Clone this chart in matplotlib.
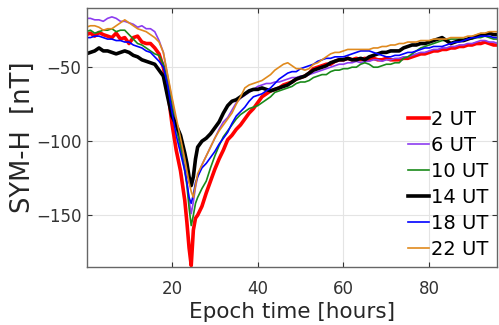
import matplotlib
matplotlib.use("Agg")
import matplotlib.pyplot as plt

# --- data (SYM-H superposed epochs) ------------------------------------

hours = list(range(0, 23)) + [23, 23.5, 24, 24.5, 25, 25.5] + list(range(26, 97))

sym_2ut = [-28, -27, -29, -26.5, -28, -29, -30, -27, -31, -30, -34, -30, -29, -33, -34, -34, -37, -41, -50, -65, -88, -106, -120,
           -140, -155, -172, -184, -160, -152,
           -150, -144, -135, -127, -119, -112, -106, -99, -96, -92, -89, -85, -81, -78, -74, -70, -68, -66, -65, -64, -62, -61, -60, -58,
           -57, -56, -54, -51, -50, -49, -48, -48, -46, -45, -45, -44, -45, -44, -45, -44, -45, -44, -45, -45, -44, -45, -45, -45,
           -44, -44, -43, -42, -41, -41, -40, -39, -39, -38, -38, -37, -37, -36, -36, -35, -35, -34, -34, -33, -34, -35, -35]

sym_6ut = [-17, -17, -18, -18, -19, -17, -16, -17, -19, -19, -20, -21, -23, -22, -24, -24, -26, -32, -40, -56, -72, -88, -102,
           -118, -128, -140, -149, -141, -131,
           -124, -116, -110, -104, -98, -92, -87, -84, -79, -74, -71, -69, -67, -65, -63, -62, -61, -61, -60, -60, -59, -58, -57, -57,
           -56, -56, -55, -54, -53, -52, -51, -50, -49, -48, -48, -47, -47, -46, -47, -46, -46, -45, -45, -46, -45, -45, -44, -44,
           -43, -43, -42, -41, -40, -40, -39, -38, -38, -37, -37, -36, -36, -35, -35, -34, -34, -33, -32, -32, -33, -33, -34]

sym_10ut = [-26, -25, -27, -26, -25, -25, -24, -26, -25, -25, -28, -31, -34, -35, -37, -39, -41, -42, -48, -60, -76, -91, -104,
            -120, -130, -145, -157, -150, -142,
            -138, -132, -127, -118, -110, -103, -97, -93, -89, -85, -82, -80, -78, -77, -76, -74, -72, -70, -67, -66, -65, -64, -63, -61,
            -60, -60, -59, -57, -56, -55, -55, -53, -52, -52, -51, -51, -50, -50, -48, -47, -48, -50, -50, -49, -48, -48, -47, -47,
            -44, -43, -41, -39, -37, -36, -35, -34, -33, -32, -32, -31, -31, -31, -31, -31, -31, -30, -30, -29, -30, -31, -31]

sym_14ut = [-41, -40, -39, -37, -39, -39, -40, -41, -40, -39, -40, -42, -43, -45, -46, -47, -48, -52, -56, -70, -83, -89, -96,
            -108, -115, -124, -130, -124, -112,
            -104, -100, -98, -95, -91, -87, -81, -76, -73, -72, -70, -68, -66, -65, -65, -64, -65, -66, -65, -64, -63, -62, -60, -58,
            -57, -56, -54, -52, -51, -50, -49, -47, -46, -45, -45, -44, -45, -45, -44, -45, -43, -42, -41, -40, -40, -39, -39, -39,
            -37, -36, -35, -35, -34, -34, -33, -32, -31, -30, -32, -34, -33, -32, -32, -31, -30, -29, -28, -28, -27, -28, -28]

sym_18ut = [-30, -30, -29, -29, -30, -31, -31, -32, -32, -33, -33, -35, -36, -37, -39, -40, -43, -46, -50, -62, -80, -96, -108,
            -120, -128, -138, -142, -136, -128,
            -124, -118, -115, -111, -107, -102, -98, -94, -88, -83, -80, -77, -73, -70, -69, -68, -66, -64, -61, -58, -56, -54, -53, -53,
            -51, -50, -49, -48, -46, -45, -44, -44, -43, -43, -43, -42, -41, -40, -39, -39, -39, -40, -41, -42, -43, -43, -42, -42,
            -41, -40, -40, -39, -38, -37, -37, -36, -36, -36, -35, -34, -33, -33, -32, -31, -30, -30, -29, -29, -29, -30, -30]

sym_22ut = [-23, -22, -22, -23, -25, -24, -24, -22, -20, -18, -20, -22, -24, -25, -26, -28, -30, -33, -40, -55, -70, -84, -98,
            -112, -120, -128, -134, -138, -130,
            -122, -116, -110, -104, -98, -93, -89, -85, -81, -75, -70, -64, -62, -61, -60, -59, -57, -55, -52, -50, -48, -47, -49, -51,
            -51, -52, -51, -48, -47, -45, -43, -41, -40, -40, -39, -38, -38, -38, -38, -38, -38, -37, -37, -36, -36, -35, -35, -34,
            -34, -33, -33, -33, -32, -32, -32, -31, -31, -31, -31, -30, -30, -30, -30, -29, -29, -28, -27, -27, -26, -26, -26]

labels = ["2 UT", "6 UT", "10 UT", "14 UT", "18 UT", "22 UT"]
colours = ["#ff0000", "#8c3cf0", "#1a8a1a", "#000000", "#0000ff", "#e08a1e"]
widths = [2.6, 1.2, 1.2, 2.6, 1.2, 1.2]

# --- plot ---------------------------------------------------------------

plt.rcParams["font.family"] = "DejaVu Sans"

fig = plt.figure(figsize=(4.99, 3.25), dpi=100)
ax = fig.add_axes([87 / 499, 58 / 325, 410 / 499, 259 / 325])

series = [sym_2ut, sym_6ut, sym_10ut, sym_14ut, sym_18ut, sym_22ut]
for vals, lab, col, lw in zip(series, labels, colours, widths):
    assert len(vals) == len(hours), lab
    ax.plot(hours, vals, color=col, lw=lw, label=lab)

ax.set_xlim(0.2, 95.8)
ax.set_ylim(-185, -10)
ax.set_xticks([20, 40, 60, 80])
ax.set_yticks([-150, -100, -50])
ax.grid(True, color="#e4e4e4", lw=0.8)
ax.set_axisbelow(True)
ax.tick_params(direction="in", length=3.5, width=0.8, colors="#333333",
               labelsize=12, top=True, right=True)
ax.tick_params(axis="x", pad=9)
ax.tick_params(axis="y", pad=4)
for sp in ax.spines.values():
    sp.set_color("#666666")
    sp.set_linewidth(1.0)

ax.set_xlabel("Epoch time [hours]", fontsize=15.5, color="#262626", labelpad=3)
ax.set_ylabel("SYM-H  [nT]", fontsize=18.5, color="#262626", labelpad=0)

ax.legend(loc="upper left", bbox_to_anchor=(408 / 499, 1 - 110 / 325),
          bbox_transform=fig.transFigure, frameon=False, fontsize=14,
          handlelength=1.1, handletextpad=0.1, labelspacing=0.36,
          borderpad=0, borderaxespad=0)

fig.savefig("out.png", dpi=100)
